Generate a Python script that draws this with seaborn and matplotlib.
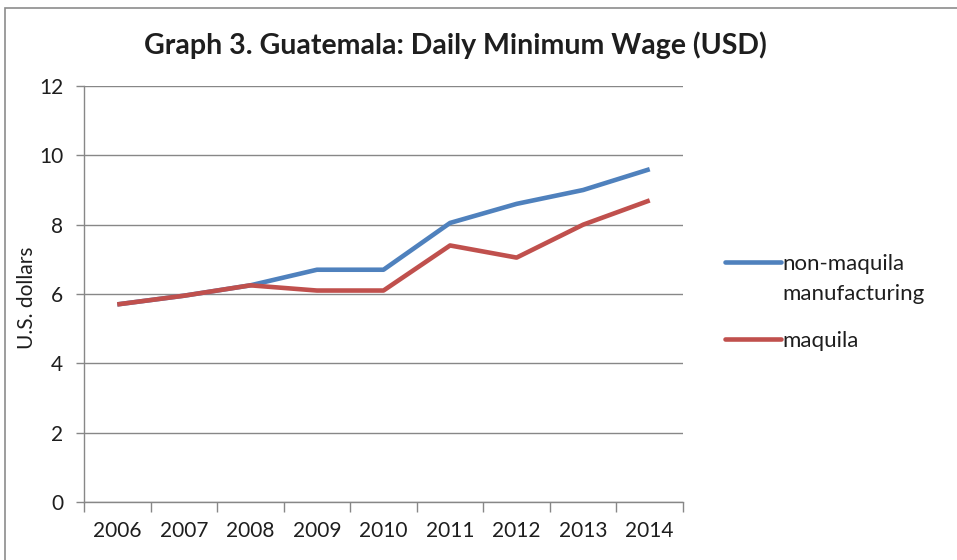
import matplotlib
matplotlib.use("Agg")
import matplotlib.pyplot as plt
from matplotlib.patches import Rectangle
import numpy as np
import pandas as pd
import seaborn as sns

years = ["2006", "2007", "2008", "2009", "2010", "2011", "2012", "2013", "2014"]
non_maquila = [5.7, 5.95, 6.25, 6.7, 6.7, 8.05, 8.6, 9.0, 9.6]
maquila = [5.7, 5.95, 6.25, 6.1, 6.1, 7.4, 7.05, 8.0, 8.7]
series_names = ["non-maquila manufacturing", "maquila"]
y_ticks = [0, 2, 4, 6, 8, 10, 12]

df = pd.DataFrame({
    "pos": list(range(len(years))) * 2,
    "value": non_maquila + maquila,
    "series": [series_names[0]] * len(years) + [series_names[1]] * len(years),
})

sns.set_theme(style="white")
plt.rcParams["font.family"] = ["Lato", "DejaVu Sans"]

W, H = 957, 560
fig = plt.figure(figsize=(W / 100, H / 100), dpi=100)
ax = fig.add_axes([84 / W, 1 - 502 / H, (683 - 84) / W, (502 - 86) / H])

grid_c = "#878787"
text_c = "#1e1e1e"
palette = {series_names[0]: "#4F81BD", series_names[1]: "#C0504D"}
sns.lineplot(data=df, x="pos", y="value", hue="series", palette=palette,
             linewidth=3.3, ax=ax, legend=False, solid_capstyle="butt")

ax.set_xlim(-0.5, len(years) - 0.5)
ax.set_ylim(0, 12)
ax.set_yticks(y_ticks)
ax.set_yticklabels([str(t) for t in y_ticks], fontsize=15)
ax.yaxis.grid(True, color=grid_c, linewidth=1.0)
ax.set_axisbelow(True)
ax.tick_params(axis="y", length=6, color=grid_c, width=1, pad=9, labelcolor=text_c, left=True)

# category labels at centers, tick marks at category boundaries
ax.set_xticks(range(len(years)))
ax.set_xticklabels(years, fontsize=15, color=text_c)
ax.tick_params(axis="x", which="major", length=0, pad=14)
ax.set_xticks(np.arange(-0.5, len(years), 1.0), minor=True)
ax.tick_params(axis="x", which="minor", length=7, color=grid_c, width=1, bottom=True, direction="out")

for side in ["top", "right"]:
    ax.spines[side].set_visible(False)
for side in ["left", "bottom"]:
    ax.spines[side].set_color(grid_c)
    ax.spines[side].set_linewidth(1.0)

ax.set_xlabel("")
ax.set_ylabel("U.S. dollars", fontsize=15, color=text_c)
ax.yaxis.set_label_coords(-0.078, 0.49)

fig.text(455 / W, 1 - 45 / H, "Graph 3. Guatemala: Daily Minimum Wage (USD)",
         ha="center", va="center", fontsize=20.5, fontweight="bold", color=text_c)

# legend on the right: the long label wraps onto a second row under its line sample
leg_kw = dict(frameon=False, fontsize=16, handlelength=2.5, handletextpad=0.1,
              borderpad=0, borderaxespad=0, labelcolor=text_c)
blue_line = plt.Line2D([], [], color=palette[series_names[0]], linewidth=3.3)
blank = plt.Line2D([], [], color="none")
red_line = plt.Line2D([], [], color=palette[series_names[1]], linewidth=3.3)
first_words, rest = series_names[0].split(" ", 1)
fig.legend([blue_line, blank], [first_words, rest], loc="center left",
           bbox_to_anchor=(725 / W, 1 - 278.5 / H), labelspacing=0.45, **leg_kw)
fig.legend([red_line], [series_names[1]], loc="center left",
           bbox_to_anchor=(725 / W, 1 - 341 / H), **leg_kw)

# outer chart frame
fig.add_artist(Rectangle((5 / W, -0.05), 1.1, 1 - 8 / H + 0.05, transform=fig.transFigure,
                         fill=False, edgecolor="#8c8c8c", linewidth=1.2))

fig.savefig("out.png", dpi=100)
